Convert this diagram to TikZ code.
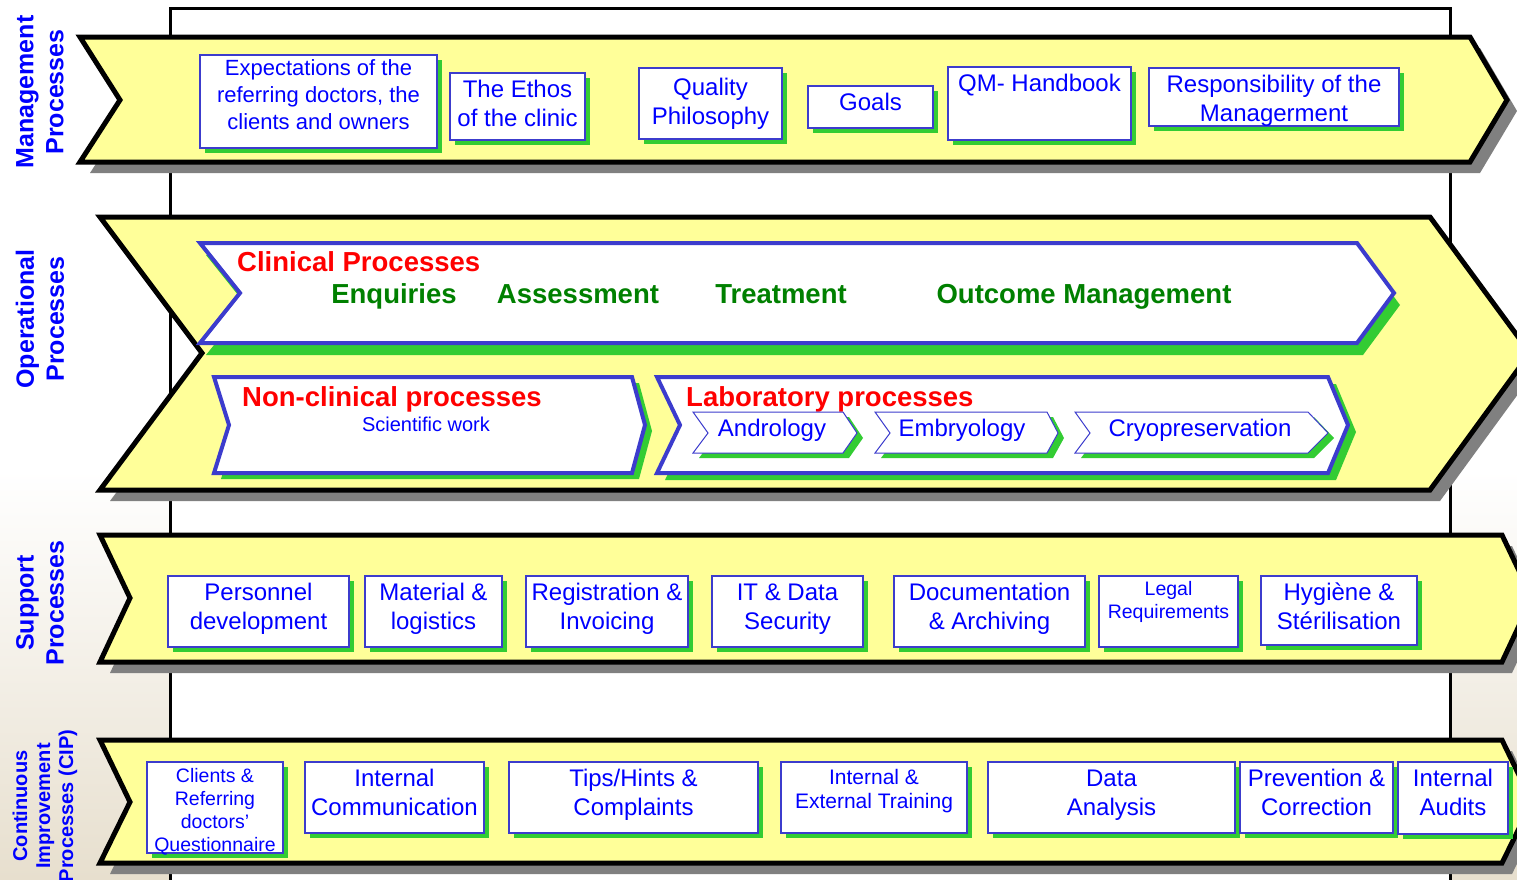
\documentclass[tikz,border=0pt]{standalone}
\usepackage{fontspec}
\setmainfont{Liberation Sans}
\definecolor{bandyellow}{RGB}{255,255,153}
\definecolor{shgray}{RGB}{128,128,128}
\definecolor{shgreen}{RGB}{51,204,51}
\definecolor{boxblue}{RGB}{60,60,205}
\definecolor{textblue}{RGB}{0,0,255}
\definecolor{labred}{RGB}{255,0,0}
\definecolor{labgreen}{RGB}{0,128,0}
\definecolor{bgbeige}{RGB}{231,223,206}
\newcommand\chevp[7]{(#1,#2) -- (#3,#2) -- (#4,#5) -- (#3,#6) -- (#1,#6) -- (#7,#5) -- cycle}
\newcommand\fBig{\fontsize{24}{28.5}\selectfont}
\newcommand\fMid{\fontsize{22}{27}\selectfont}
\newcommand\fTrain{\fontsize{21}{24}\selectfont}
\newcommand\fSmall{\fontsize{19.5}{23}\selectfont}
\tikzset{
  band/.style={fill=bandyellow, draw=black, line width=5pt, line join=miter},
  bandshadow/.style={fill=shgray},
  bigchev/.style={fill=white, draw=boxblue, line width=4pt, line join=miter},
  smallchev/.style={fill=white, draw=boxblue, line width=1pt},
  greenshadow/.style={fill=shgreen},
  rectbox/.style={fill=white, draw=boxblue, line width=1.5pt, inner sep=0pt, outer sep=0pt, anchor=north west},
  boxtext/.style={text=textblue, align=center, inner sep=0pt},
  redlabel/.style={text=labred, font=\fontsize{27.5}{32}\selectfont\bfseries, anchor=west, inner sep=0pt},
  greenlabel/.style={text=labgreen, font=\fontsize{27.5}{32}\selectfont\bfseries, inner sep=0pt},
  sidelabel/.style={rotate=90, text=textblue, align=center, inner sep=0pt, font=\fontsize{25}{30}\selectfont\bfseries},
  cipsidelabel/.style={rotate=90, text=textblue, align=center, inner sep=0pt, font=\fontsize{20}{23}\selectfont\bfseries}
}
% name, x1, y1, x2, y2, text y, font, text
\newcommand\rbox[8]{%
  \fill[greenshadow] (#2+5,#3+5) rectangle (#4+5,#5+5);
  \node[rectbox, minimum width={(#4-#2)*1pt}, minimum height={(#5-#3)*1pt}] (#1) at (#2,#3) {};
  \node[boxtext, font=#7] (#1-t) at ({(#2+#4)/2},#6) {\strut #8\strut};
}
\begin{document}
\begin{tikzpicture}[x=1pt,y=-1pt]
\useasboundingbox (0,0) rectangle (1517,879);
\clip (0,0) rectangle (1517,879);
% background
\fill[white] (0,0) rectangle (1517,879);
\shade[top color=white, bottom color=bgbeige] (0,470) rectangle (1517,879);
\draw[line width=3pt, fill=white] (170,8) rectangle (1450,920);

% ---------------- bands: shadows
\begin{scope}[shift={(10,11)}]
  \fill[bandshadow] \chevp{80}{37}{1470}{1507}{100}{162}{120};
  \fill[bandshadow] \chevp{100}{217}{1430}{1530}{353}{490}{202};
  \fill[bandshadow] \chevp{100}{535}{1502}{1532}{598}{662}{130};
  \fill[bandshadow] \chevp{100}{740}{1502}{1532}{802}{863}{130};
\end{scope}
% bands
\path[band] \chevp{80}{37}{1470}{1507}{100}{162}{120};
\path[band] \chevp{100}{217}{1430}{1530}{353}{490}{202};
\path[band] \chevp{100}{535}{1502}{1532}{598}{662}{130};
\path[band] \chevp{100}{740}{1502}{1532}{802}{863}{130};

% ---------------- side labels
\node[sidelabel] (lblmgmt) at (40,92) {Management\\Processes};
\node[sidelabel] (lblop) at (40,319) {Operational\\Processes};
\node[sidelabel] (lblsup) at (40,603) {Support\\Processes};
\node[cipsidelabel] (lblcip) at (45,806) {Continuous\\Improvement\\Processes (CIP)};

% ---------------- management boxes
\rbox{expect}{200}{55}{437}{148}{97.5}{\fMid}{Expectations of the\\referring doctors, the\\clients and owners}
\rbox{ethos}{450}{73}{585}{140}{106.2}{\fBig}{The Ethos\\of the clinic}
\rbox{quality}{639}{68}{782}{139}{104.2}{\fBig}{Quality\\Philosophy}
\rbox{goals}{808}{86}{933}{128}{104.9}{\fBig}{Goals}
\rbox{qm}{948}{67}{1131}{140}{85.9}{\fBig}{QM- Handbook}
\rbox{resp}{1149}{68}{1399}{126}{101.2}{\fBig}{Responsibility of the\\Managerment}

% ---------------- operational: clinical
\begin{scope}[shift={(6,12)}]
  \fill[greenshadow] \chevp{200}{243}{1357}{1394}{293}{343}{240};
\end{scope}
\path[bigchev] \chevp{200}{243}{1357}{1394}{293}{343}{240};
\node[redlabel] (clin) at (237,265.4) {\strut Clinical Processes};
\node[greenlabel] (enq) at (394,297.4) {\strut Enquiries};
\node[greenlabel] (assess) at (578,297.4) {\strut Assessment};
\node[greenlabel] (treat) at (781,297.4) {\strut Treatment};
\node[greenlabel] (outcome) at (1084,297.4) {\strut Outcome Management};

% non-clinical
\begin{scope}[shift={(7,6)}]
  \fill[greenshadow] \chevp{214}{377}{632}{645}{425}{473}{229};
\end{scope}
\path[bigchev] \chevp{214}{377}{632}{645}{425}{473}{229};
\node[redlabel] (nonclin) at (242,400.4) {\strut Non-clinical processes};
\node[boxtext, font=\fontsize{20}{24}\selectfont] (sci) at (426,426.4) {\strut Scientific work};

% laboratory
\begin{scope}[shift={(8,7)}]
  \fill[greenshadow] \chevp{657}{377}{1328}{1348}{425}{473}{680};
\end{scope}
\path[bigchev] \chevp{657}{377}{1328}{1348}{425}{473}{680};
\node[redlabel] (lab) at (686,400.4) {\strut Laboratory processes};

\begin{scope}[shift={(6,5)}]
  \fill[greenshadow] \chevp{693}{412}{843}{857}{433}{453}{708};
  \fill[greenshadow] \chevp{875}{412}{1047}{1058}{433}{453}{890};
  \fill[greenshadow] \chevp{1075}{412}{1308}{1328}{433}{453}{1090};
\end{scope}
\path[smallchev] \chevp{693}{412}{843}{857}{433}{453}{708};
\path[smallchev] \chevp{875}{412}{1047}{1058}{433}{453}{890};
\path[smallchev] \chevp{1075}{412}{1308}{1328}{433}{453}{1090};
\node[boxtext, font=\fBig] (andro) at (772,430.9) {\strut Andrology};
\node[boxtext, font=\fBig] (embryo) at (962,430.9) {\strut Embryology};
\node[boxtext, font=\fBig] (cryo) at (1200,430.9) {\strut Cryopreservation};

% ---------------- support boxes
\rbox{pers}{168}{576}{349}{647}{609.2}{\fBig}{Personnel\\development}
\rbox{mat}{365}{576}{502}{647}{609.2}{\fBig}{Material \&\\logistics}
\rbox{reg}{526}{576}{688}{647}{609.2}{\fBig}{Registration \&\\Invoicing}
\rbox{itds}{712}{576}{863}{647}{609.2}{\fBig}{IT \& Data\\Security}
\rbox{docu}{894}{576}{1085}{647}{609.2}{\fBig}{Documentation\\\& Archiving}
\rbox{legal}{1099}{576}{1238}{647}{601.9}{\fSmall}{Legal\\Requirements}
\rbox{hyg}{1261}{576}{1417}{645}{609.2}{\fBig}{Hygiène \&\\Stérilisation}

% ---------------- CIP boxes
\rbox{clients}{147}{762}{283}{853}{811.9}{\fSmall}{Clients \&\\Referring\\doctors’\\Questionnaire}
\rbox{intcomm}{305}{762}{484}{833}{795.2}{\fBig}{Internal\\Communication}
\rbox{tips}{509}{762}{758}{833}{795.2}{\fBig}{Tips/Hints \&\\Complaints}
\rbox{train}{781}{762}{967}{833}{791.7}{\fTrain}{Internal \&\\External Training}
\rbox{data}{988}{762}{1235}{833}{795.2}{\fBig}{Data\\Analysis}
\rbox{prev}{1240}{762}{1393}{833}{795.2}{\fBig}{Prevention \&\\Correction}
\rbox{audits}{1398}{762}{1508}{834}{795.2}{\fBig}{Internal\\Audits}
\end{tikzpicture}
\end{document}
